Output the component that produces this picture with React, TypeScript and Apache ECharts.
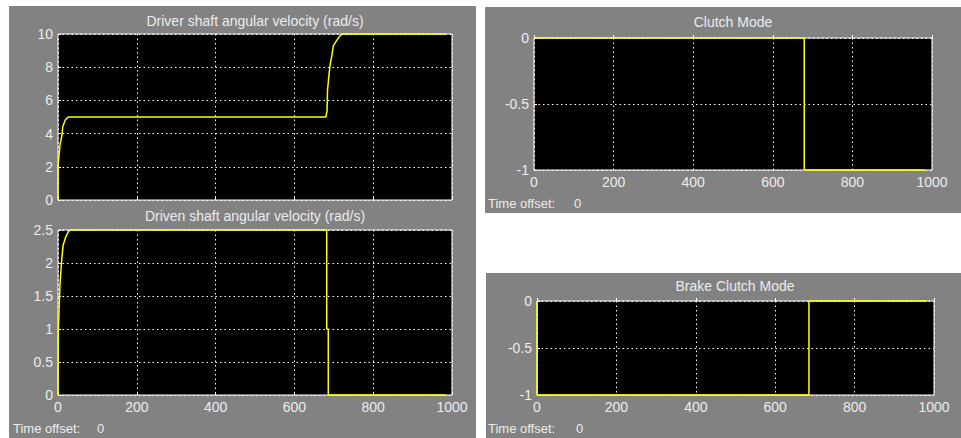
import React, { useEffect, useRef } from "react";
import * as echarts from "echarts";

// ---- data ----
const xTicks = [0, 200, 400, 600, 800, 1000];

const driverTime = [0, 0, 1, 5, 10, 12, 18, 26, 35, 680, 683, 684, 688, 691, 695, 699, 707, 716, 722, 985];
const driverVel = [0, 2, 2, 3.3, 3.9, 4.4, 4.8, 5.0, 5.0, 5.0, 5.4, 6.6, 7.6, 8.2, 8.7, 9.3, 9.6, 9.9, 10, 10];

const drivenTime = [0, 1, 1, 5, 9, 13, 20, 26, 30, 682, 682, 686, 686, 983];
const drivenVel = [0, 0, 1, 1.67, 2.02, 2.27, 2.4, 2.47, 2.5, 2.5, 1, 1, 0, 0];

const clutchTime = [0, 679, 679, 983];
const clutchMode = [0, 0, -1, -1];

const brakeTime = [0, 0, 685, 685, 982];
const brakeMode = [0, -1, -1, 0, 0];

const titles = [
  "Driver shaft angular velocity (rad/s)",
  "Driven shaft angular velocity (rad/s)",
  "Clutch Mode",
  "Brake Clutch Mode",
];

const FONT = "'Liberation Sans', Arial, sans-serif";
const TXT = "#ececec";
const GRAY = "#828282";

function pairs(t: number[], v: number[]) {
  return t.map((x, i) => [x, v[i]]);
}

export default function App() {
  const ref = useRef<HTMLDivElement>(null);
  useEffect(() => {
    if (!ref.current) return;
    const chart = echarts.init(ref.current, undefined, { renderer: "svg" });

    const grids = [
      { left: 58, top: 34, width: 394, height: 166 },
      { left: 58, top: 230, width: 394, height: 165 },
      { left: 534, top: 38, width: 398, height: 132 },
      { left: 537, top: 301, width: 397, height: 94 },
    ].map((g) => ({
      ...g,
      show: true,
      backgroundColor: "#000",
      borderColor: "#ffffff",
      borderWidth: 1,
      z: 0,
    }));

    const splitLine = {
      show: true,
      lineStyle: { color: "#ffffff", width: 1, type: [1.5, 3] as any },
    };

    const xAxes = [0, 1, 2, 3].map((i) => ({
      type: "value" as const,
      gridIndex: i,
      z: 2,
      min: xTicks[0],
      max: xTicks[xTicks.length - 1],
      interval: 200,
      axisLine: { show: false },
      axisTick: { show: true, inside: true, length: 3, lineStyle: { color: "#fff" } },
      axisLabel: {
        show: i !== 0,
        color: TXT,
        fontSize: 14,
        fontFamily: FONT,
        margin: 5,
        formatter: (v: number) => String(v),
      },
      splitLine,
    }));

    const yDefs = [
      { min: 0, max: 10, interval: 2 },
      { min: 0, max: 2.5, interval: 0.5 },
      { min: -1, max: 0, interval: 0.5 },
      { min: -1, max: 0, interval: 0.5 },
    ];
    const yAxes = yDefs.map((d, i) => ({
      type: "value" as const,
      gridIndex: i,
      z: 2,
      ...d,
      axisLine: { show: false },
      axisTick: { show: true, inside: true, length: 3, lineStyle: { color: "#fff" } },
      axisLabel: {
        color: TXT,
        fontSize: 14,
        fontFamily: FONT,
        margin: 5,
        formatter: (v: number) => String(v),
      },
      splitLine,
    }));

    const datasets = [
      pairs(driverTime, driverVel),
      pairs(drivenTime, drivenVel),
      pairs(clutchTime, clutchMode),
      pairs(brakeTime, brakeMode),
    ];

    const series = datasets.map((data, i) => ({
      type: "line" as const,
      xAxisIndex: i,
      yAxisIndex: i,
      data,
      showSymbol: false,
      clip: false,
      z: 5,
      lineStyle: { color: "#ffff00", width: 1.5 },
    }));

    const titlePos = [
      [255, 21],
      [255, 216],
      [733, 22],
      [735, 286],
    ];
    const offsetPos = [
      [13, 428, 97],
      [488, 203, 574],
      [488, 428, 576],
    ];

    const graphic: any[] = [
      { type: "rect", shape: { x: 9, y: 6, width: 467, height: 432 }, style: { fill: GRAY }, z: -10 },
      { type: "rect", shape: { x: 485, y: 7, width: 476, height: 206 }, style: { fill: GRAY }, z: -10 },
      { type: "rect", shape: { x: 486, y: 273, width: 475, height: 165 }, style: { fill: GRAY }, z: -10 },
    ];
    titles.forEach((t, i) => {
      graphic.push({
        type: "text",
        x: titlePos[i][0],
        y: titlePos[i][1],
        z: 10,
        style: {
          text: t,
          fill: TXT,
          fontSize: 14,
          fontFamily: FONT,
          textAlign: "center",
          textVerticalAlign: "middle",
        },
      });
    });
    offsetPos.forEach(([x, y, x0]) => {
      graphic.push({
        type: "text",
        x,
        y,
        z: 10,
        style: { text: "Time offset:", fill: TXT, fontSize: 13, fontFamily: FONT, textAlign: "left", textVerticalAlign: "middle" },
      });
      graphic.push({
        type: "text",
        x: x0,
        y,
        z: 10,
        style: { text: "0", fill: TXT, fontSize: 13, fontFamily: FONT, textAlign: "left", textVerticalAlign: "middle" },
      });
    });

    chart.setOption({
      animation: false,
      backgroundColor: "#ffffff",
      grid: grids,
      xAxis: xAxes,
      yAxis: yAxes,
      series,
      graphic,
    });
    return () => chart.dispose();
  }, []);

  return (
    <div
      ref={ref}
      style={{ position: "absolute", left: 0, top: 0, width: 961, height: 438 }}
    />
  );
}
